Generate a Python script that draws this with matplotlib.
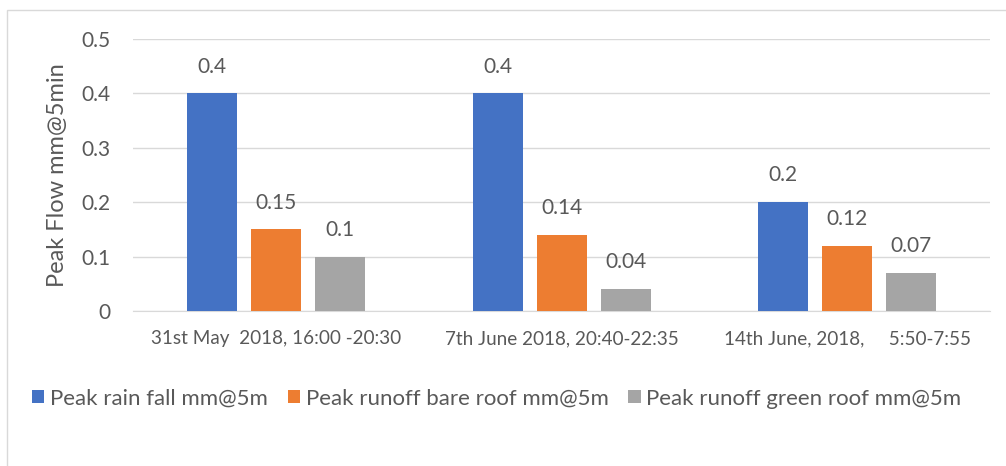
import matplotlib
matplotlib.use("Agg")
import matplotlib.pyplot as plt
from matplotlib.patches import Rectangle
import numpy as np

categories = ["31st May  2018, 16:00 -20:30",
              "7th June 2018, 20:40-22:35",
              "14th June, 2018,     5:50-7:55"]
series_names = ["Peak rain fall mm@5m",
                "Peak runoff bare roof mm@5m",
                "Peak runoff green roof mm@5m"]
rain = [0.4, 0.4, 0.2]
bare = [0.15, 0.14, 0.12]
green = [0.1, 0.04, 0.07]
colors = ["#4472C4", "#ED7D31", "#A5A5A5"]
text_color = "#595959"

plt.rcParams["font.family"] = ["Lato", "DejaVu Sans"]

fig = plt.figure(figsize=(10.06, 4.66), dpi=100)
ax = fig.add_axes([0.1322, 0.3326, 0.852, 0.5837])

# chart border
fig.patches.append(Rectangle((7 / 1006, -0.1), 1.1, 1 - 10 / 466 + 0.1,
                             transform=fig.transFigure, fill=False,
                             edgecolor="#D9D9D9", linewidth=1))

x = np.arange(len(categories))
width = 0.175
step = 0.224
for i, (vals, name) in enumerate(zip([rain, bare, green], series_names)):
    bars = ax.bar(x + (i - 1) * step, vals, width, color=colors[i], label=name, zorder=3)
    for b, v in zip(bars, vals):
        ax.text(b.get_x() + b.get_width() / 2, v + 0.031, f"{v:g}",
                ha="center", va="bottom", fontsize=15, color=text_color)

ax.set_xlim(-0.5, 2.5)
ax.set_ylim(0, 0.5)
ax.set_yticks(np.arange(0, 0.51, 0.1))
ax.set_yticklabels(["0", "0.1", "0.2", "0.3", "0.4", "0.5"])
ax.set_xticks(x)
ax.set_xticklabels(categories, fontsize=13.6, color=text_color)
ax.tick_params(axis="y", labelsize=15, labelcolor=text_color, length=0, pad=16)
ax.tick_params(axis="x", length=0, pad=14)
ax.grid(axis="y", color="#D9D9D9", linewidth=1, zorder=0)
for s in ["top", "right", "left"]:
    ax.spines[s].set_visible(False)
ax.spines["bottom"].set_color("#D9D9D9")
ax.set_ylabel("Peak Flow mm@5min", fontsize=17, color=text_color)
ax.yaxis.set_label_coords(-0.076, 0.5)

fig.legend(loc="upper left", bbox_to_anchor=(0.012, 0.209), ncol=3, frameon=False,
           fontsize=16, labelcolor=text_color, handlelength=0.55, handleheight=0.55,
           handletextpad=0.25, columnspacing=0.9)

fig.savefig("out.png", dpi=100)
